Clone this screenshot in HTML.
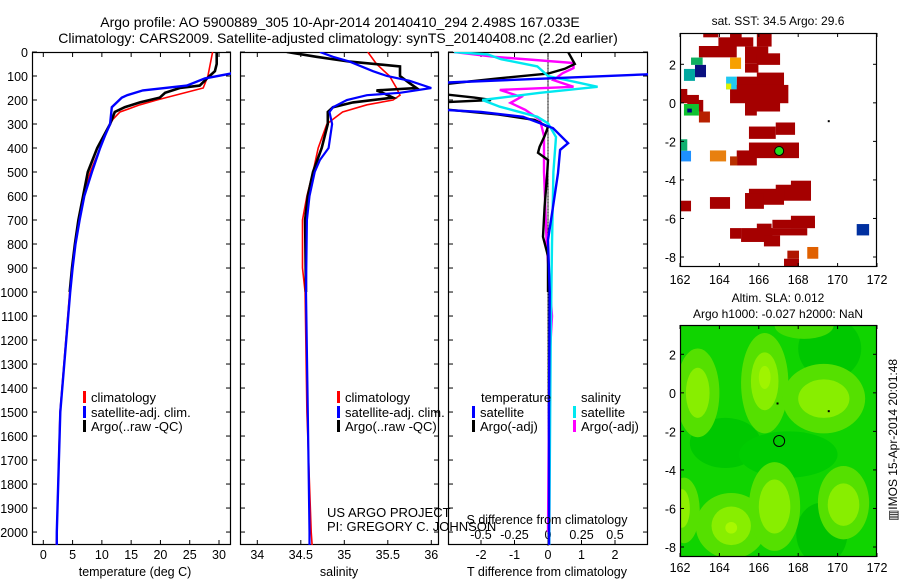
<!DOCTYPE html>
<html><head><meta charset="utf-8">
<style>
html,body{margin:0;padding:0;background:#fff;}
svg{display:block;font-family:"Liberation Sans",sans-serif;}
text{fill:#000;}
</style></head>
<body>
<svg id="fig" width="900" height="580" viewBox="0 0 900 580" xmlns="http://www.w3.org/2000/svg">
<text x="340" y="27" font-size="14" text-anchor="middle">Argo profile: AO 5900889_305 10-Apr-2014 20140410_294 2.498S 167.033E</text>
<text x="338" y="43" font-size="14" text-anchor="middle">Climatology: CARS2009. Satellite-adjusted climatology: synTS_20140408.nc (2.2d earlier)</text>
<text x="778" y="25" font-size="12" text-anchor="middle">sat. SST: 34.5 Argo: 29.6</text>
<text x="778" y="302" font-size="12" text-anchor="middle">Altim. SLA: 0.012</text>
<text x="778" y="318" font-size="12" text-anchor="middle">Argo h1000: -0.027 h2000: NaN</text>
<text transform="translate(897,440) rotate(-90)" font-size="12" text-anchor="middle">▥IMOS 15-Apr-2014 20:01:48</text>
<text x="327" y="517" font-size="13">US ARGO PROJECT</text>
<text x="327" y="531" font-size="13">PI: GREGORY C. JOHNSON</text>
</svg>
<script>
// ---- shared depth axis data ----
const depthTicks = [0,100,200,300,400,500,600,700,800,900,1000,1100,1200,1300,1400,1500,1600,1700,1800,1900,2000];
// ---- temperature panel ----
const tDepthClim = [0,100,150,200,220,250,280,300,400,500,600,700,800,900,1000,1500,2000,2054];
const tClim = [28.9,28.1,27.3,19.4,16.5,13.1,11.9,11.4,9.7,8.0,6.9,6.1,5.4,4.9,4.5,2.85,2.3,2.2];
const tDepthSat = [0,50,90,110,140,160,180,190,230,300,350,400,500,600,700,800,900,1000,1500,2000,2054];
const tSat = [34.5,34,32,27.6,24.5,17,14.3,13.4,11.7,11.4,10.5,9.7,8.3,7.0,6.2,5.5,5.0,4.6,2.9,2.3,2.3];
const tDepthArgo = [0,50,80,100,140,150,170,190,210,230,250,300,400,500,600,700,800,900,1000];
const tArgo = [29.6,29.6,29.3,28.4,26.7,23.3,20.8,19.9,16.5,13.9,12.2,11.4,9.2,7.6,6.8,6.0,5.4,4.9,4.5];
const tTicks = [0,5,10,15,20,25,30];
// ---- salinity panel ----
const sDepthClim = [0,50,100,150,180,200,220,250,280,300,400,500,600,700,900,1000,1500,2000,2054];
const sClim = [35.27,35.37,35.52,35.6,35.64,35.56,35.26,34.98,34.87,34.8,34.7,34.64,34.57,34.52,34.52,34.55,34.57,34.62,34.63];
const sDepthSat = [0,20,40,80,100,120,150,170,180,200,230,250,300,400,450,500,600,700,1000,1500,2000,2054];
const sSat = [34.72,34.87,35.06,35.33,35.49,35.75,36.0,35.64,35.26,35.03,34.87,34.83,34.86,34.82,34.72,34.66,34.6,34.57,34.56,34.58,34.6,34.6];
const sDepthArgo = [0,20,40,60,100,130,150,160,170,190,210,230,250,300,400,500,600,700,1000];
const sArgo = [34.34,34.68,35.06,35.64,35.64,35.75,35.83,35.37,35.44,35.56,35.1,34.87,34.81,34.81,34.74,34.64,34.58,34.55,34.56];
const sTicks = [34,34.5,35,35.5,36];
// ---- difference panel ----
const dDepthTSat = [0,80,90,130,238,250,270,317,380,408,505,645,783,1000,1500,2054];
const dTSat = [5,4,3.5,-3.5,-3.5,-2,-0.75,0.15,0.6,0.36,0.3,0.15,0,0.05,0.03,0.03];
const dDepthTArgo = [0,50,70,90,110,140,170,190,200,212,240,260,283,312,350,395,420,450,500,645,770,850,1000];
const dTArgo = [0.6,0.8,0.5,0,-1.5,-3.5,-3.5,-2.2,-1.7,-3.5,-3,-1.5,-0.4,0,-0.1,-0.25,-0.3,0,-0.02,-0.1,-0.15,0,0];
const dDepthSSat = [0,10,30,60,100,145,170,200,228,270,297,354,500,800,1200,2000,2054];
const dSSat = [-0.7,-0.45,-0.35,-0.08,0,0.37,-0.06,-0.49,-0.36,-0.08,0,0.06,0.04,0.03,0.02,0.01,0.01];
const dDepthSArgo = [0,20,46,67,88,117,145,158,187,212,241,283,350,500,800,1100,1300,2000];
const dSArgo = [-0.7,-0.4,0.19,0.19,0.11,0.04,0.19,-0.36,-0.2,-0.28,-0.17,-0.06,-0.03,-0.03,-0.01,0.03,0.01,0];
const dTTicks = [-2,-1,0,1,2];
const dSTicks = [-0.5,-0.25,0,0.25,0.5];
const dSTickLabels = ['-0.5','-0.25','0','0.25','0.5'];
// ---- SST map cells [lon0, lat0, lon1, lat1, colour] ----
const sstCells = [
[163.18,3.61,163.95,3.4,'#a50000'],[164.54,3.61,165.13,3.35,'#a50000'],[163.95,3.4,165.72,2.92,'#a50000'],
[165.9,3.61,166.65,2.92,'#a50000'],[162.96,2.95,164.88,2.36,'#a50000'],[165.3,2.92,166.48,2.05,'#a50000'],
[165.9,2.57,167.08,1.97,'#a50000'],[165.3,2.05,165.98,1.57,'#a50000'],[165.9,1.57,167.28,0.93,'#a50000'],
[164.88,1.36,167.28,0.41,'#a50000'],[164.54,0.93,167.5,-0.02,'#a50000'],[165.3,0.32,167.08,-0.45,'#a50000'],
[165.3,-0.02,165.9,-0.66,'#a50000'],[162,0.72,162.37,0.32,'#a50000'],[162,0.41,162.96,-0.02,'#a50000'],
[162.37,0.15,163.18,-0.45,'#a50000'],[162.96,-0.45,163.52,-1.02,'#b82000'],[166.86,-1.02,167.84,-1.66,'#a50000'],
[165.5,-1.23,166.86,-1.87,'#a50000'],[165.5,-2.06,168.04,-2.87,'#a50000'],[164.88,-2.47,165.9,-3.25,'#a50000'],
[164.54,-2.78,164.91,-3.25,'#b83000'],[167.63,-4.04,168.65,-4.86,'#a50000'],[166.86,-4.25,168.65,-5.08,'#a50000'],
[165.5,-4.46,167.28,-5.29,'#a50000'],[165.3,-4.68,166.26,-5.5,'#a50000'],[162,-5.08,162.56,-5.63,'#a50000'],
[163.52,-4.89,164.54,-5.5,'#a50000'],[167.63,-5.86,168.85,-6.5,'#a50000'],[166.69,-6.07,168.85,-6.5,'#a50000'],
[165.9,-6.27,166.65,-6.64,'#a50000'],[166.65,-6.5,168.46,-6.88,'#a50000'],[164.54,-6.5,165.1,-7.05,'#a50000'],
[165.1,-6.5,166.69,-7.22,'#a50000'],[166.26,-6.88,167.08,-7.45,'#a50000'],[167.45,-7.67,168.04,-8.09,'#b01500'],
[167.28,-8.09,168.04,-8.48,'#a50000'],
[162.56,2.35,163.15,1.97,'#10b060'],[162.76,1.97,163.32,1.33,'#0a1080'],[162.2,1.76,162.76,1.14,'#00a8a0'],
[164.54,2.35,165.1,1.76,'#f7a000'],[164.34,1.36,164.88,0.7,'#20c8f0'],[164.34,1.0,164.6,0.7,'#e0f000'],
[162.2,-0.06,162.96,-0.66,'#10c030'],[162.37,-0.3,162.6,-0.5,'#000080'],[162.0,-1.89,162.37,-2.49,'#10b070'],
[162.0,-2.49,162.56,-3.04,'#1e90ff'],[163.52,-2.47,164.34,-3.04,'#e88010'],[170.97,-6.29,171.6,-6.88,'#0030a0'],
[168.46,-7.48,169.02,-8.09,'#e06000']
];
const argoLon = 167.033, argoLat = -2.498;
// ---- SLA map blobs [lon, lat, rx, ry, colour] ----
const slaBlobs = [
[169.6,2.3,1.6,1.6,'#00c800'],[164.3,-2.6,1.8,1.3,'#00c800'],[169.2,-7.3,1.3,1.6,'#00c400'],[167.5,-3.2,2.5,1.2,'#00cc00'],
[162.9,0,1.1,2.3,'#55e000'],[166.3,0.5,1.2,2.6,'#55e000'],[169.3,-0.3,2.1,1.8,'#55e000'],[164.6,-6.9,1.8,1.7,'#55e000'],
[166.8,-5.9,1.3,2.3,'#55e000'],[170.3,-5.7,1.3,1.9,'#55e000'],[162.2,-6.1,0.8,1.7,'#55e000'],[168.3,3.5,1.5,0.7,'#40dc00'],
[162.9,0,0.6,1.3,'#88ee00'],[166.3,0.6,0.7,1.5,'#88ee00'],[169.3,-0.3,1.3,1.0,'#88ee00'],[164.6,-6.9,1.0,1.0,'#88ee00'],
[166.8,-5.9,0.8,1.4,'#88ee00'],[170.3,-5.8,0.8,1.1,'#88ee00'],[162.1,-6.0,0.4,1.0,'#8ef000'],
[164.6,-7.0,0.3,0.3,'#a8f800'],[166.3,0.8,0.3,0.6,'#a0f400']
];
const mapLonTicks = [162,164,166,168,170,172];
const mapLatTicks = [2,0,-2,-4,-6,-8];

const NS='http://www.w3.org/2000/svg';
const svg=document.getElementById('fig');
function el(tag,attrs,parent){const e=document.createElementNS(NS,tag);for(const k in attrs)e.setAttribute(k,attrs[k]);(parent||svg).appendChild(e);return e;}

const PY0=52, PY1=545, DMAX=2054;
function yD(d){return PY0+(PY1-PY0)*d/DMAX;}
function linScale(v0,p0,v1,p1){return v=>p0+(v-v0)*(p1-p0)/(v1-v0);}

function panel(name,x0,x1){
  const g=el('g',{});
  
  
  const cp=el('clipPath',{id:'clip-'+name},g);
  el('rect',{x:x0,y:PY0,width:x1-x0,height:PY1-PY0},cp);
  const fr=el('rect',{x:x0+0.5,y:PY0+0.5,width:x1-x0-1,height:PY1-PY0-1,fill:'none',stroke:'#000','stroke-width':1.2},g);
  
  
  depthTicks.forEach(d=>{
    el('line',{x1:x0,x2:x0+5,y1:yD(d),y2:yD(d),stroke:'#000'},g);
    el('line',{x1:x1-5,x2:x1,y1:yD(d),y2:yD(d),stroke:'#000'},g);
  });
  return g;
}
function profile(g,name,xs,ds,sx,color,w,clipName){
  let pts=xs.map((v,i)=>sx(v).toFixed(1)+','+yD(ds[i]).toFixed(1)).join(' ');
  const p=el('polyline',{points:pts,fill:'none',stroke:color,'stroke-width':w,'clip-path':'url(#clip-'+clipName+')','stroke-linejoin':'miter'},g);
  
  
}
function txt(s,x,y,size,anchor,name,parent){
  const t=el('text',{x:x,y:y,'font-size':size,'text-anchor':anchor||'start'},parent);
  t.textContent=s;
  
  
  return t;
}
function legendEntry(g,x,y,color,label,name){
  const r=el('rect',{x:x,y:y-10,width:3,height:12,fill:color},g);
  
  
  txt(label,x+8,y+1,13,'start',name,g);
}

depthTicks.forEach(d=>{txt(String(d),28,yD(d)+5,12.5,'end','depth-tick-'+d);});

// Panel 1: temperature
const sxT=linScale(0,43.3,30,219);
const g1=panel('temperature-panel',32,231);
tTicks.forEach(t=>{el('line',{x1:sxT(t),x2:sxT(t),y1:PY1,y2:PY1-5,stroke:'#000'},g1);el('line',{x1:sxT(t),x2:sxT(t),y1:PY0,y2:PY0+5,stroke:'#000'},g1);txt(String(t),sxT(t),559,12.5,'middle','temp-tick-'+t,g1);});
profile(g1,'temp-climatology-line',tClim,tDepthClim,sxT,'#ff0000',1.6,'temperature-panel');
profile(g1,'temp-argo-line',tArgo,tDepthArgo,sxT,'#000',2.6,'temperature-panel');
profile(g1,'temp-satellite-line',tSat,tDepthSat,sxT,'#0000ff',2.4,'temperature-panel');
txt('temperature (deg C)',135,576,12.5,'middle','temp-axis-title',g1);
legendEntry(g1,83,401,'#ff0000','climatology','temp-legend-climatology');
legendEntry(g1,83,416,'#0000ff','satellite-adj. clim.','temp-legend-satellite');
legendEntry(g1,83,430,'#000','Argo(..raw -QC)','temp-legend-argo');

// Panel 2: salinity
const sxS=linScale(34,257.3,36,431.3);
const g2=panel('salinity-panel',240,439);
sTicks.forEach(t=>{el('line',{x1:sxS(t),x2:sxS(t),y1:PY1,y2:PY1-5,stroke:'#000'},g2);el('line',{x1:sxS(t),x2:sxS(t),y1:PY0,y2:PY0+5,stroke:'#000'},g2);txt(String(t),sxS(t),559,12.5,'middle','sal-tick-'+t,g2);});
profile(g2,'sal-climatology-line',sClim,sDepthClim,sxS,'#ff0000',1.6,'salinity-panel');
profile(g2,'sal-argo-line',sArgo,sDepthArgo,sxS,'#000',2.6,'salinity-panel');
profile(g2,'sal-satellite-line',sSat,sDepthSat,sxS,'#0000ff',2.2,'salinity-panel');
txt('salinity',339,576,12.5,'middle','sal-axis-title',g2);
legendEntry(g2,337,401,'#ff0000','climatology','sal-legend-climatology');
legendEntry(g2,337,416,'#0000ff','satellite-adj. clim.','sal-legend-satellite');
legendEntry(g2,337,430,'#000','Argo(..raw -QC)','sal-legend-argo');

// Panel 3: differences
const sxDT=linScale(0,548,1,581.5);
const sxDS=linScale(0,548,0.25,581.5);
const g3=panel('difference-panel',448,648);
for(let d=0;d<=DMAX;d+=6){el('rect',{x:547.5,y:yD(d),width:1,height:1.2,fill:'#000'},g3);}
dTTicks.forEach(t=>{el('line',{x1:sxDT(t),x2:sxDT(t),y1:PY1,y2:PY1-5,stroke:'#000'},g3);el('line',{x1:sxDT(t),x2:sxDT(t),y1:PY0,y2:PY0+5,stroke:'#000'},g3);txt(String(t),sxDT(t),559,12.5,'middle','tdiff-tick-'+t,g3);});
dSTicks.forEach((t,i)=>{txt(dSTickLabels[i],sxDS(t),539,12.5,'middle','sdiff-tick-'+i,g3);});
profile(g3,'sdiff-argo-line',dSArgo,dDepthSArgo,sxDS,'#ff00ff',2.4,'difference-panel');
profile(g3,'tdiff-argo-line',dTArgo,dDepthTArgo,sxDT,'#000',2.4,'difference-panel');
profile(g3,'sdiff-satellite-line',dSSat,dDepthSSat,sxDS,'#00e8f0',2.4,'difference-panel');
profile(g3,'tdiff-satellite-line',dTSat,dDepthTSat,sxDT,'#0000ff',2.4,'difference-panel');
txt('S difference from climatology',547,524,12.5,'middle','sdiff-axis-title',g3);
txt('T difference from climatology',547,576,12.5,'middle','tdiff-axis-title',g3);
txt('temperature',481,402,13,'start','diff-legend-temperature-header',g3);
txt('salinity',581,402,13,'start','diff-legend-salinity-header',g3);
legendEntry(g3,472,416,'#0000ff','satellite','diff-legend-t-satellite');
legendEntry(g3,472,430,'#000','Argo(-adj)','diff-legend-t-argo');
legendEntry(g3,573,416,'#00e8f0','satellite','diff-legend-s-satellite');
legendEntry(g3,573,430,'#ff00ff','Argo(-adj)','diff-legend-s-argo');

// Maps
function mapPanel(name,y0,y1,latAt2y,latAtm8y){
  const g=el('g',{});
  
  
  const sx=linScale(162,680,172,877);
  const sy=linScale(2,latAt2y,-8,latAtm8y);
  const cp=el('clipPath',{id:'clip-'+name},g);
  el('rect',{x:680,y:y0,width:197,height:y1-y0},cp);
  const cg=el('g',{'clip-path':'url(#clip-'+name+')'},g);
  return {g,cg,sx,sy,y0,y1};
}
function mapFrame(m,name,labelY){
  const fr=el('rect',{x:680.5,y:m.y0+0.5,width:196,height:m.y1-m.y0-1,fill:'none',stroke:'#000','stroke-width':1.2},m.g);
  
  
  mapLonTicks.forEach(t=>{const x=m.sx(t);el('line',{x1:x,x2:x,y1:m.y1,y2:m.y1-4,stroke:'#000'},m.g);el('line',{x1:x,x2:x,y1:m.y0,y2:m.y0+4,stroke:'#000'},m.g);txt(String(t),x,labelY,12.5,'middle',name+'-lon-tick-'+t,m.g);});
  mapLatTicks.forEach(t=>{const y=m.sy(t);el('line',{x1:680,x2:684,y1:y,y2:y,stroke:'#000'},m.g);el('line',{x1:873,x2:877,y1:y,y2:y,stroke:'#000'},m.g);txt(String(t),676,y+5,12.5,'end',name+'-lat-tick-'+t,m.g);});
}
const m1=mapPanel('sst-map',33,267,64.3,257);
sstCells.forEach((c,i)=>{
  const x0=m1.sx(c[0]),x1=m1.sx(c[2]),y0=m1.sy(c[1]),y1=m1.sy(c[3]);
  const r=el('rect',{x:x0,y:y0,width:x1-x0,height:y1-y0,fill:c[4]},m1.cg);
  
  
});
el('rect',{x:m1.sx(169.5),y:m1.sy(-0.9),width:2,height:2,fill:'#000'},m1.cg);
const dot=el('circle',{cx:m1.sx(argoLon),cy:m1.sy(argoLat),r:4.5,fill:'#22dd22',stroke:'#000','stroke-width':1},m1.g);


mapFrame(m1,'sst-map',284);

const m2=mapPanel('sla-map',325,557,354.3,547);
el('rect',{x:680,y:325,width:197,height:232,fill:'#10d400'},m2.cg);
slaBlobs.forEach(b=>{
  const e=el('ellipse',{cx:m2.sx(b[0]),cy:m2.sy(b[1]),rx:b[2]*19.7,ry:b[3]*19.3,fill:b[4]},m2.cg);
  
  
});
el('rect',{x:m2.sx(169.5),y:m2.sy(-0.9),width:2,height:2,fill:'#000'},m2.cg);
el('rect',{x:m2.sx(166.9),y:m2.sy(-0.5),width:2,height:2,fill:'#000'},m2.cg);
const ring=el('circle',{cx:m2.sx(argoLon),cy:m2.sy(argoLat),r:5.5,fill:'none',stroke:'#000','stroke-width':1},m2.g);


mapFrame(m2,'sla-map',572);
</script>
</body></html>
